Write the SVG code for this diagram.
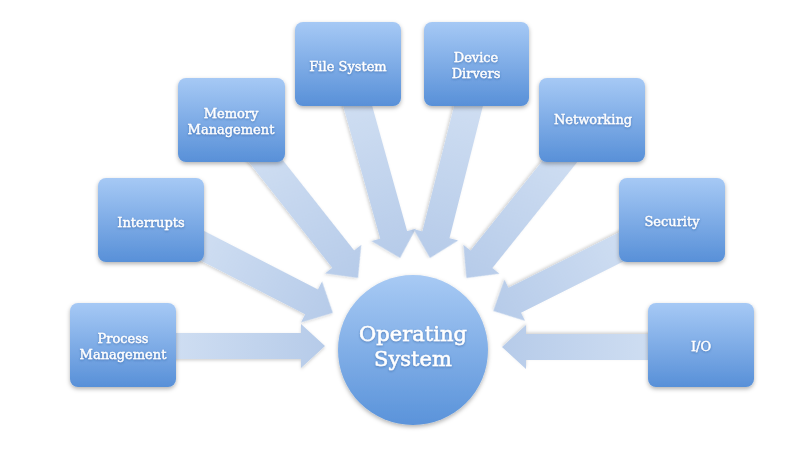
<svg xmlns="http://www.w3.org/2000/svg" width="806" height="449" viewBox="0 0 806 449">
<defs>
<linearGradient id="boxg" x1="0" y1="0" x2="0" y2="1">
<stop offset="0" stop-color="#a6c9f5"/>
<stop offset="1" stop-color="#5890d8"/>
</linearGradient>
<linearGradient id="cirg" x1="0" y1="0" x2="0" y2="1">
<stop offset="0" stop-color="#a8caf4"/>
<stop offset="1" stop-color="#5a93da"/>
</linearGradient>
<linearGradient id="arrg" x1="0" y1="0" x2="1" y2="0">
<stop offset="0" stop-color="#cfdef2"/>
<stop offset="1" stop-color="#b6cbe9"/>
</linearGradient>
<filter id="sh" x="-20%" y="-20%" width="140%" height="150%">
<feDropShadow dx="0" dy="2" stdDeviation="2" flood-color="#000" flood-opacity="0.3"/>
</filter>
<filter id="ash" x="-10%" y="-30%" width="120%" height="160%">
<feDropShadow dx="0" dy="1.5" stdDeviation="1.5" flood-color="#000" flood-opacity="0.18"/>
</filter>
<filter id="tsh" x="-10%" y="-30%" width="120%" height="160%">
<feDropShadow dx="0" dy="1" stdDeviation="0.8" flood-color="#1f4f8f" flood-opacity="0.5"/>
</filter>
</defs>
<style>
.box{fill:url(#boxg);filter:url(#sh)}
.lbl{font-family:"DejaVu Serif","Liberation Serif",serif;font-size:13px;fill:#fff;stroke:#fff;stroke-width:0.35px;text-anchor:middle;filter:url(#tsh)}
.big{font-family:"DejaVu Serif","Liberation Serif",serif;font-size:21px;fill:#fff;stroke:#fff;stroke-width:0.5px;text-anchor:middle;filter:url(#tsh)}
.arrow{fill:url(#arrg);filter:url(#ash)}
</style>
<rect width="806" height="449" fill="#fff"/>
<g id="connectors">
<path class="arrow" transform="translate(170,346) rotate(0)" d="M0,-13 H131 V-22 L155,0 L131,22 V13 H0 Z"/>
<path class="arrow" transform="translate(195,242) rotate(27.2)" d="M0,-14 H131 V-23 L155,0 L131,23 V14 H0 Z"/>
<path class="arrow" transform="translate(257,150) rotate(51.7)" d="M0,-14 H139 V-23 L163,0 L139,23 V14 H0 Z"/>
<path class="arrow" transform="translate(356,100) rotate(74.4)" d="M0,-14 H140 V-23 L164,0 L140,23 V14 H0 Z"/>
<path class="arrow" transform="translate(470,100) rotate(104.2)" d="M0,-14 H139 V-23 L163,0 L139,23 V14 H0 Z"/>
<path class="arrow" transform="translate(569,150) rotate(128.7)" d="M0,-14 H140 V-23 L164,0 L140,23 V14 H0 Z"/>
<path class="arrow" transform="translate(631,242) rotate(153.4)" d="M0,-14 H130 V-23 L154,0 L130,23 V14 H0 Z"/>
<path class="arrow" transform="translate(655,347) rotate(180)" d="M0,-13 H129 V-22 L153,0 L129,22 V13 H0 Z"/>
</g>
<g id="os">
<circle cx="413" cy="350" r="75" fill="url(#cirg)" filter="url(#sh)"/>
<text class="big" x="413" y="341">Operating</text>
<text class="big" x="413" y="366">System</text>
</g>
<g id="process">
<rect class="box" x="70" y="303" width="106" height="84" rx="8"/>
<text class="lbl" x="123" y="343">Process</text>
<text class="lbl" x="123" y="359">Management</text>
</g>
<g id="interrupts">
<rect class="box" x="98" y="178" width="106" height="84" rx="8"/>
<text class="lbl" x="151" y="227">Interrupts</text>
</g>
<g id="memory">
<rect class="box" x="178" y="78" width="107" height="84" rx="8"/>
<text class="lbl" x="231" y="118">Memory</text>
<text class="lbl" x="231" y="134">Management</text>
</g>
<g id="filesystem">
<rect class="box" x="295" y="22" width="106" height="84" rx="8"/>
<text class="lbl" x="348" y="71">File System</text>
</g>
<g id="devicedrivers">
<rect class="box" x="424" y="22" width="105" height="84" rx="8"/>
<text class="lbl" x="476" y="62">Device</text>
<text class="lbl" x="476" y="78">Dirvers</text>
</g>
<g id="networking">
<rect class="box" x="539" y="78" width="106" height="84" rx="8"/>
<text class="lbl" x="593" y="124">Networking</text>
</g>
<g id="security">
<rect class="box" x="619" y="178" width="106" height="84" rx="8"/>
<text class="lbl" x="672" y="226">Security</text>
</g>
<g id="io">
<rect class="box" x="648" y="303" width="106" height="84" rx="8"/>
<text class="lbl" x="701" y="351">I/O</text>
</g>
</svg>
